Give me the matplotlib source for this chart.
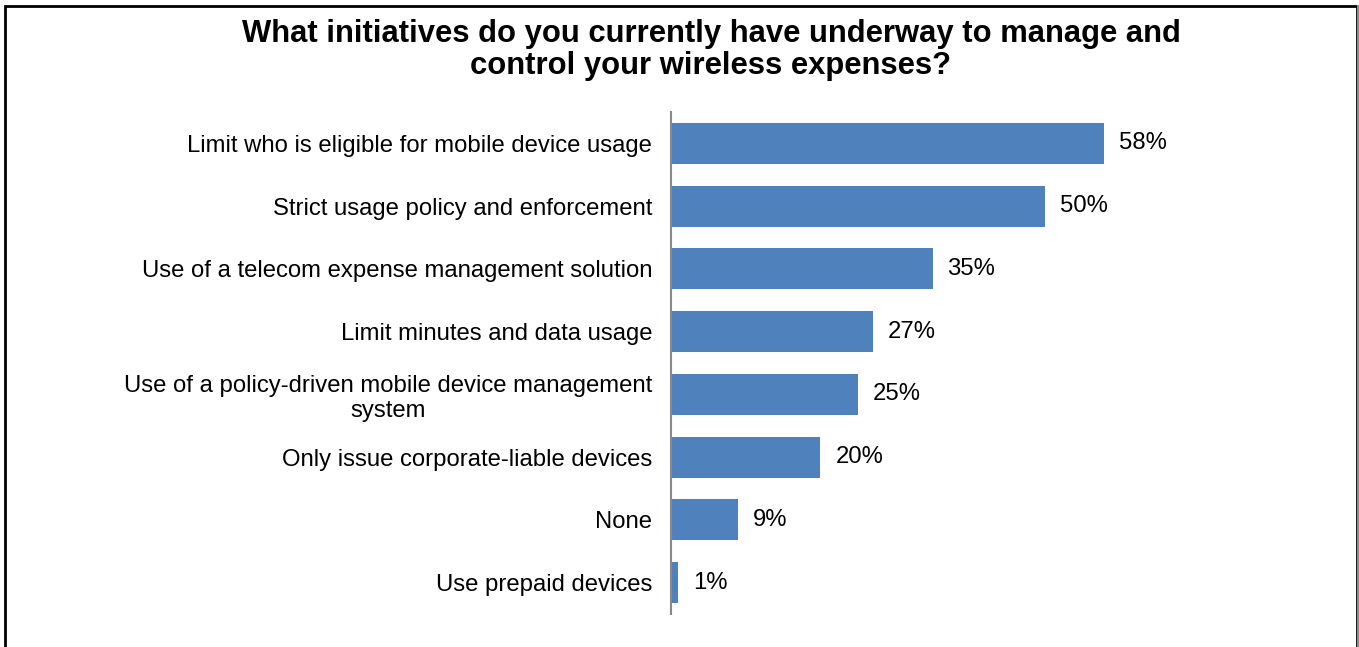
import matplotlib.pyplot as plt
from matplotlib.patches import Rectangle
from matplotlib.lines import Line2D

plt.rcParams['font.family'] = ['Liberation Sans', 'DejaVu Sans']

categories = [
    "Limit who is eligible for mobile device usage",
    "Strict usage policy and enforcement",
    "Use of a telecom expense management solution",
    "Limit minutes and data usage",
    "Use of a policy-driven mobile device management\nsystem",
    "Only issue corporate-liable devices",
    "None",
    "Use prepaid devices",
]
values = [58, 50, 35, 27, 25, 20, 9, 1]
value_labels = ["58%", "50%", "35%", "27%", "25%", "20%", "9%", "1%"]

W, H = 1359, 647
fig = plt.figure(figsize=(W / 100, H / 100), dpi=100)
ax = fig.add_axes([671 / W, 1 - 614 / H, (1194 - 671) / W, (614 - 112) / H])

y = list(range(len(categories)))
ax.barh(y, values, height=0.65, color="#4F81BD")
ax.set_ylim(len(categories) - 0.5, -0.5)
ax.set_xlim(0, 70)

for yi, v, lab in zip(y, values, value_labels):
    ax.text(v + 2.0, yi, lab, va="center", ha="left", fontsize=17.2)

ax.set_yticks(y)
ax.set_yticklabels(categories, fontsize=17.2, multialignment="center")
ax.tick_params(axis="y", length=0, pad=13.5)
ax.set_xticks([])
for side in ["top", "right", "bottom"]:
    ax.spines[side].set_visible(False)
ax.spines["left"].set_color("#888888")
ax.spines["left"].set_linewidth(1.5)

fig.text(711 / W, 1 - 50 / H,
         "What initiatives do you currently have underway to manage and\ncontrol your wireless expenses?",
         ha="center", va="center", fontsize=22.3, fontweight="bold", linespacing=1.12)

# outer frame: black left/top, grey right edge
fig.patches.append(Rectangle((5 / W, -0.1), (1352 / W), 1 - 6 / H + 0.1,
                             transform=fig.transFigure, fill=False,
                             edgecolor="black", linewidth=2))
fig.lines.append(Line2D([1357.5 / W, 1357.5 / W], [0, 1 - 6 / H],
                        transform=fig.transFigure, color="#8c8c8c", linewidth=2.2))

fig.savefig("out.png", dpi=100)
